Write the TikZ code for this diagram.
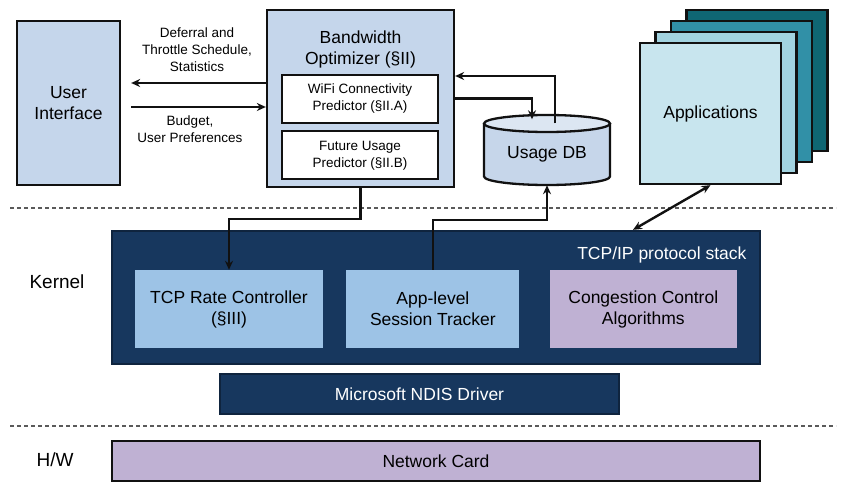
\documentclass[tikz,border=0pt]{standalone}
\usepackage{fontspec}
\setmainfont{Liberation Sans}
\usetikzlibrary{positioning,arrows.meta}
\definecolor{edge}{HTML}{111111}
\definecolor{paleblue}{HTML}{C5D6EB}
\definecolor{dbfill}{HTML}{C6D6EA}
\definecolor{dblid}{HTML}{DCE6F2}
\definecolor{applight}{HTML}{A2D3E0}
\definecolor{appmid}{HTML}{3190A7}
\definecolor{appdeep}{HTML}{0F6673}
\definecolor{appfront}{HTML}{C8E5EE}
\definecolor{navy}{HTML}{17375E}
\definecolor{navyedge}{HTML}{0F243E}
\definecolor{lightblue}{HTML}{9DC3E6}
\definecolor{lavender}{HTML}{BFB1D3}
\definecolor{layergray}{HTML}{5A5A5A}

\begin{document}
\begin{tikzpicture}[x=1pt, y=-1pt,
  box/.style={draw=edge, line width=2.3pt, inner sep=0pt, align=center},
  inner/.style={inner sep=0pt, minimum height=78pt, align=center, big},
  big/.style={font=\fontsize{17.5}{21}\selectfont},
  small/.style={font=\fontsize{13.5}{17}\selectfont},
  arr/.style={-{Stealth[length=9pt,width=8pt]}, line width=2.4pt, color=edge},
  layer/.style={draw=layergray, dash pattern=on 4pt off 3pt, line width=1.4pt}]
\useasboundingbox (0,0) rectangle (843,489);
\node[box, big, fill=paleblue, minimum width=103pt, minimum height=164pt] (ui) at (68.5,103) {User\\Interface};
\node[box, fill=paleblue, minimum width=187pt, minimum height=177pt] (bo) at (360.5,98.5) {};
\node[big, align=center] (botitle) at (360.5,49) {Bandwidth\\Optimizer (§II)};
\node[box, small, fill=white, minimum width=156pt, minimum height=48pt] (wifi) at (360,99) {WiFi Connectivity\\Predictor (§II.A)};
\node[box, small, fill=white, minimum width=156pt, minimum height=48pt, below=6pt of wifi] (future) {Future Usage\\Predictor (§II.B)};
\node[small, align=center] (deferlabel) at (197,50) {Deferral and\\Throttle Schedule,\\Statistics};
\node[small, align=center] (budgetlabel) at (190,129.5) {Budget,\\User Preferences};
\fill[dbfill] (484,123.5) -- (484,176.5) arc[start angle=180, end angle=360, x radius=63pt, y radius=8.5pt] -- (610,123.5) -- cycle;
\draw[draw=edge, line width=2.3pt] (484,123.5) -- (484,176.5) arc[start angle=180, end angle=360, x radius=63pt, y radius=8.5pt] -- (610,123.5);
\draw[draw=edge, fill=dblid, line width=2.3pt] (547,123.5) ellipse[x radius=63pt, y radius=8.5pt];
\node[big, inner sep=0pt, minimum width=126pt, minimum height=61.5pt] (usagedb) at (547,154.25) {Usage DB};
\foreach \k/\c in {3/appdeep,2/appmid,1/applight}
  \draw[draw=edge, fill=\c, line width=2.3pt] (640+15.5*\k,43-11*\k) rectangle ++(141,141);
\node[box, big, fill=appfront, minimum width=141pt, minimum height=141pt] (apps) at (710.5,113.5) {Applications};
\draw[layer] (10,208) -- (836,208);
\draw[layer] (10,426) -- (836,426);
\node[box, draw=navyedge, fill=navy, minimum width=648pt, minimum height=133pt] (kernel) at (436,297.5) {};
\node[big, text=white, anchor=east] (stacklabel) at (750,255) {TCP/IP protocol stack};
\node[inner, fill=lightblue, minimum width=188pt] (tcprc) at (229,309) {TCP Rate Controller\\(§III)};
\node[inner, fill=lightblue, minimum width=173pt, right=23pt of tcprc] (tracker) {App-level\\Session Tracker};
\node[inner, fill=lavender, minimum width=187pt, right=30pt of tracker] (ccalgo) {Congestion Control\\Algorithms};
\node[box, big, draw=navyedge, fill=navy, text=white, minimum width=399pt, minimum height=40pt] (ndis) at (419.5,394) {Microsoft NDIS Driver};
\node[box, big, fill=lavender, minimum width=648pt, minimum height=40pt] (nic) at (436,461) {Network Card};
\node[font=\fontsize{19}{22}\selectfont] (kernellabel) at (57,282) {Kernel};
\node[font=\fontsize{19}{22}\selectfont] (hwlabel) at (55,460) {H/W};
\draw[arr, shorten >=10pt] ([yshift=15.5pt]bo.west) -- ([yshift=15.5pt]bo.west -| ui.east);
\draw[arr, shorten <=10pt] ([yshift=-8.5pt]bo.west -| ui.east) -- ([yshift=-8.5pt]bo.west);
\draw[arr] ([xshift=8pt]usagedb.north) |- ([yshift=22.5pt]bo.east);
\draw[arr] (bo.east) -| ([xshift=-15pt,yshift=4pt]usagedb.north);
\draw[arr] (bo.south) -- ++(0,31) -| (tcprc.north);
\draw[arr] (tracker.north) -- ++(0,-50) -| (usagedb.south);
\draw[arr, {Stealth[length=9pt,width=8pt]}-{Stealth[length=9pt,width=8pt]}] (apps.south) -- ([xshift=197pt]kernel.north);
\end{tikzpicture}
\end{document}
